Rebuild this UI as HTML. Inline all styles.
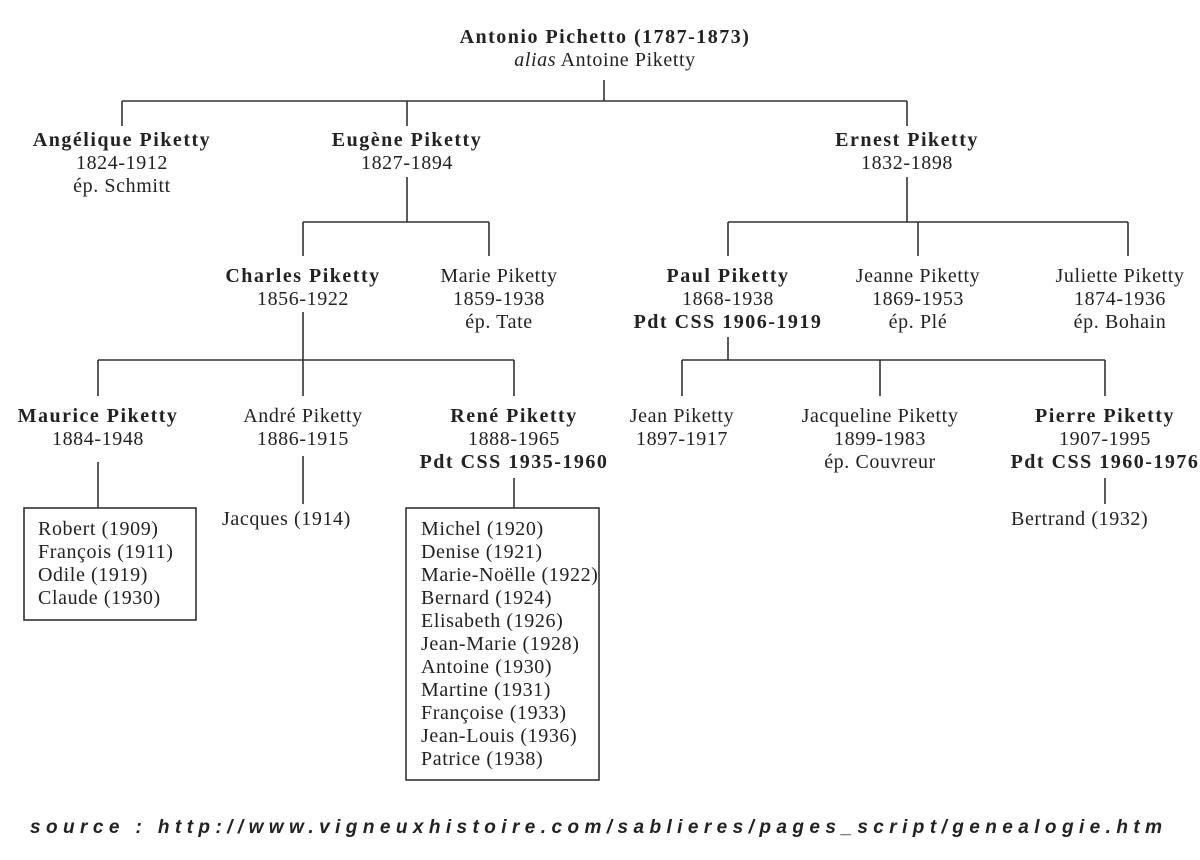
<!DOCTYPE html>
<html><head><meta charset="utf-8"><style>
html,body{margin:0;padding:0;background:#fff;}
svg{display:block}
.n{font-family:"Liberation Serif",serif;font-size:20px;font-weight:bold;fill:#222;letter-spacing:1.5px;}
.d{font-family:"Liberation Serif",serif;font-size:20px;fill:#222;letter-spacing:0.6px;}
.src{font-family:"Liberation Sans",sans-serif;font-size:19px;font-weight:bold;font-style:italic;fill:#222;}
line,rect{stroke:#333;stroke-width:1.6;fill:none}
</style></head><body>
<svg width="1200" height="860" viewBox="0 0 1200 860" text-anchor="middle">
<!-- root -->
<text class="n" x="605" y="43">Antonio Pichetto (1787-1873)</text>
<text class="d" x="605" y="66"><tspan font-style="italic">alias</tspan> Antoine Piketty</text>
<line x1="604" y1="80" x2="604" y2="101"/>
<line x1="122" y1="101" x2="907" y2="101"/>
<line x1="122" y1="101" x2="122" y2="126"/>
<line x1="407" y1="101" x2="407" y2="126"/>
<line x1="907" y1="101" x2="907" y2="126"/>
<!-- gen2 -->
<text class="n" x="122" y="146">Angélique Piketty</text>
<text class="d" x="122" y="169">1824-1912</text>
<text class="d" x="122" y="192">ép. Schmitt</text>
<text class="n" x="407" y="146">Eugène Piketty</text>
<text class="d" x="407" y="169">1827-1894</text>
<text class="n" x="907" y="146">Ernest Piketty</text>
<text class="d" x="907" y="169">1832-1898</text>
<line x1="407" y1="177" x2="407" y2="222"/>
<line x1="303" y1="222" x2="489" y2="222"/>
<line x1="303" y1="222" x2="303" y2="256"/>
<line x1="489" y1="222" x2="489" y2="256"/>
<line x1="907" y1="177" x2="907" y2="222"/>
<line x1="728" y1="222" x2="1128" y2="222"/>
<line x1="728" y1="222" x2="728" y2="256"/>
<line x1="918" y1="222" x2="918" y2="256"/>
<line x1="1128" y1="222" x2="1128" y2="256"/>
<!-- gen3 -->
<text class="n" x="303" y="282">Charles Piketty</text>
<text class="d" x="303" y="305">1856-1922</text>
<text class="d" x="499" y="282">Marie Piketty</text>
<text class="d" x="499" y="305">1859-1938</text>
<text class="d" x="499" y="328">ép. Tate</text>
<text class="n" x="728" y="282">Paul Piketty</text>
<text class="d" x="728" y="305">1868-1938</text>
<text class="n" x="728" y="328">Pdt CSS 1906-1919</text>
<text class="d" x="918" y="282">Jeanne Piketty</text>
<text class="d" x="918" y="305">1869-1953</text>
<text class="d" x="918" y="328">ép. Plé</text>
<text class="d" x="1120" y="282">Juliette Piketty</text>
<text class="d" x="1120" y="305">1874-1936</text>
<text class="d" x="1120" y="328">ép. Bohain</text>
<line x1="303" y1="312" x2="303" y2="360"/>
<line x1="98" y1="360" x2="514" y2="360"/>
<line x1="98" y1="360" x2="98" y2="396"/>
<line x1="303" y1="360" x2="303" y2="396"/>
<line x1="514" y1="360" x2="514" y2="396"/>
<line x1="728" y1="337" x2="728" y2="360"/>
<line x1="682" y1="360" x2="1105" y2="360"/>
<line x1="682" y1="360" x2="682" y2="396"/>
<line x1="880" y1="360" x2="880" y2="396"/>
<line x1="1105" y1="360" x2="1105" y2="396"/>
<!-- gen4 -->
<text class="n" x="98" y="422">Maurice Piketty</text>
<text class="d" x="98" y="445">1884-1948</text>
<text class="d" x="303" y="422">André Piketty</text>
<text class="d" x="303" y="445">1886-1915</text>
<text class="n" x="514" y="422">René Piketty</text>
<text class="d" x="514" y="445">1888-1965</text>
<text class="n" x="514" y="468">Pdt CSS 1935-1960</text>
<text class="d" x="682" y="422">Jean Piketty</text>
<text class="d" x="682" y="445">1897-1917</text>
<text class="d" x="880" y="422">Jacqueline Piketty</text>
<text class="d" x="880" y="445">1899-1983</text>
<text class="d" x="880" y="468">ép. Couvreur</text>
<text class="n" x="1105" y="422">Pierre Piketty</text>
<text class="d" x="1105" y="445">1907-1995</text>
<text class="n" x="1105" y="468">Pdt CSS 1960-1976</text>
<line x1="98" y1="462" x2="98" y2="508"/>
<line x1="303" y1="456" x2="303" y2="504"/>
<line x1="514" y1="478" x2="514" y2="508"/>
<line x1="1105" y1="478" x2="1105" y2="504"/>
<rect x="24" y="508" width="172" height="112"/>
<rect x="406" y="508" width="193" height="272"/>
<g text-anchor="start">
<text class="d" x="38" y="535">Robert (1909)</text>
<text class="d" x="38" y="558">François (1911)</text>
<text class="d" x="38" y="581">Odile (1919)</text>
<text class="d" x="38" y="604">Claude (1930)</text>
<text class="d" x="222" y="525">Jacques (1914)</text>
<text class="d" x="1011" y="525">Bertrand (1932)</text>
<text class="d" x="421" y="535">Michel (1920)</text>
<text class="d" x="421" y="558">Denise (1921)</text>
<text class="d" x="421" y="581">Marie-Noëlle (1922)</text>
<text class="d" x="421" y="604">Bernard (1924)</text>
<text class="d" x="421" y="627">Elisabeth (1926)</text>
<text class="d" x="421" y="650">Jean-Marie (1928)</text>
<text class="d" x="421" y="673">Antoine (1930)</text>
<text class="d" x="421" y="696">Martine (1931)</text>
<text class="d" x="421" y="719">Françoise (1933)</text>
<text class="d" x="421" y="742">Jean-Louis (1936)</text>
<text class="d" x="421" y="765">Patrice (1938)</text>
<text class="src" x="30" y="833" textLength="1132" lengthAdjust="spacing">source : http://www.vigneuxhistoire.com/sablieres/pages_script/genealogie.htm</text>
</g>
</svg>
</body></html>
